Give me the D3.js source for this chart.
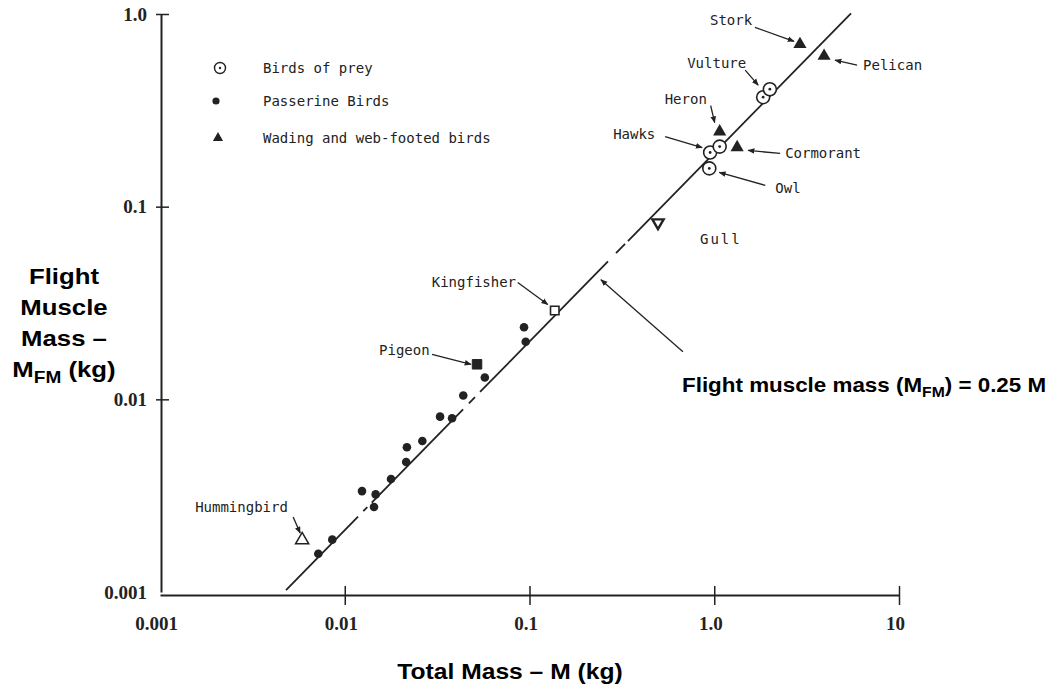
<!DOCTYPE html>
<html lang="en">
<head>
<meta charset="UTF-8">
<script src="https://cdn.jsdelivr.net/npm/d3@7"></script>
<style>
  body { margin: 0; background: #fff; }
  svg { display: block; }
</style>
<title>Flight muscle mass vs total mass</title>
</head>
<body>
<script>
// Flight muscle mass against total body mass (log-log)

let w = 1055;
let h = 692;

// axes
let xTicks = [0.001, 0.01, 0.1, 1, 10];
let xTickLabels = ['0.001', '0.01', '0.1', '1.0', '10'];
let yTicks = [0.001, 0.01, 0.1, 1];
let yTickLabels = ['0.001', '0.01', '0.1', '1.0'];

// birds of prey (circle with dot)
let preyNames = ['Owl', 'Hawks', '', 'Vulture', ''];
let preyMass = [0.94, 0.95, 1.07, 1.84, 2.0];
let preyMuscle = [0.158, 0.191, 0.205, 0.37, 0.407];

// passerine birds (filled dots)
let passerineMass = [0.00719, 0.00856, 0.0124, 0.0147, 0.0144, 0.0178, 0.0215, 0.0217,
                     0.0263, 0.0328, 0.0381, 0.0438, 0.0573, 0.0934, 0.0954];
let passerineMuscle = [0.00158, 0.00187, 0.00334, 0.00321, 0.00276, 0.00386, 0.00473, 0.00564,
                       0.00608, 0.00813, 0.00797, 0.01047, 0.01298, 0.02368, 0.01989];

// wading and web-footed birds (filled triangles)
let wadingNames = ['Heron', 'Cormorant', 'Stork', 'Pelican'];
let wadingMass = [1.07, 1.33, 2.91, 3.93];
let wadingMuscle = [0.245, 0.203, 0.696, 0.605];

// other named birds, each with its own symbol
let otherNames = ['Hummingbird', 'Pigeon', 'Kingfisher', 'Gull'];
let otherMass = [0.00588, 0.052, 0.137, 0.496];
let otherMuscle = [0.00186, 0.0152, 0.0289, 0.0826];

// fitted line through the points, and the breaks drawn in it
let fitMass = [0.00481, 5.5];
let fitMuscle = [0.001024, 1.008];
let fitBreaks = [[0.0118, 0.0126], [0.01325, 0.014], [0.0437, 0.047],
                 [0.0507, 0.054], [0.266, 0.294], [0.329, 0.341]];

// label placement, offsets in px from the point: text start, leader from -> to
let labelPos = {
  'Stork':       { tx: -90, ty: -19, a: [-45, -17, -6, -3] },
  'Pelican':     { tx: 39,  ty: 14,  a: [33, 9, 11, 4] },
  'Vulture':     { tx: -76, ty: -29, a: [-18, -27, -5, -12] },
  'Heron':       { tx: -55, ty: -28, a: [-9, -26, -5, -9] },
  'Hawks':       { tx: -97, ty: -14, a: [-45, -16, -8, -5] },
  'Cormorant':   { tx: 48,  ty: 11,  a: [43, 6, 11, 3] },
  'Owl':         { tx: 66,  ty: 25,  a: [56, 17, 10, 4] },
  'Gull':        { tx: 42,  ty: 21,  a: null },
  'Kingfisher':  { tx: -123, ty: -24, a: [-37, -28, -7, -6] },
  'Pigeon':      { tx: -98, ty: -9,  a: [-45, -10, -6, 0] },
  'Hummingbird': { tx: -107, ty: -28, a: [-9, -23, -2, -7] }
};

let ink = '#222';
let monoFont = '"DejaVu Sans Mono", monospace';

let x = d3.scaleLog().domain([0.001, 10]).range([160, 899]);
let y = d3.scaleLog().domain([0.001, 1]).range([592, 14]);

let svg = d3.select('body')
            .append('svg')
            .attr('width', w)
            .attr('height', h);

let defs = svg.append('defs');
defs.append('marker')
    .attr('id', 'arrow')
    .attr('viewBox', '0 0 10 10')
    .attr('refX', 9).attr('refY', 5)
    .attr('markerWidth', 7).attr('markerHeight', 7)
    .attr('markerUnits', 'userSpaceOnUse')
    .attr('orient', 'auto')
    .append('path')
    .attr('d', 'M0,1 L10,5 L0,9 Z')
    .attr('fill', ink);

// Y axis
let yAxis = svg.append('g')
    .attr('transform', 'translate(161,0)')
    .call(d3.axisLeft(y).tickValues(yTicks)
            .tickFormat((d, i) => yTickLabels[i])
            .tickSize(0).tickPadding(14));
yAxis.select('.domain').attr('stroke', ink).attr('stroke-width', 2);
yAxis.selectAll('.tick').filter(d => d > 0.001)
     .append('line').attr('x1', -5).attr('x2', 8)
     .attr('stroke', ink).attr('stroke-width', 1.5);
yAxis.selectAll('.tick text')
     .attr('font-family', '"Liberation Serif", serif')
     .attr('font-weight', 'bold')
     .attr('font-size', 19)
     .attr('fill', ink);

// X axis
let xAxis = svg.append('g')
    .attr('transform', 'translate(0,595)')
    .call(d3.axisBottom(x).tickValues(xTicks)
            .tickFormat((d, i) => xTickLabels[i])
            .tickSize(0).tickPadding(22));
xAxis.select('.domain').attr('stroke', ink).attr('stroke-width', 2);
xAxis.selectAll('.tick').filter(d => d > 0.001)
     .append('line').attr('y1', -9).attr('y2', 10)
     .attr('stroke', ink).attr('stroke-width', 1.5);
xAxis.selectAll('.tick text')
     .attr('dx', -4)
     .attr('font-family', '"Liberation Serif", serif')
     .attr('font-weight', 'bold')
     .attr('font-size', 19)
     .attr('fill', ink);

// fitted line, split at its breaks
let fitAt = m => {
  let t = (Math.log10(m) - Math.log10(fitMass[0])) / (Math.log10(fitMass[1]) - Math.log10(fitMass[0]));
  return Math.pow(10, Math.log10(fitMuscle[0]) + t * (Math.log10(fitMuscle[1]) - Math.log10(fitMuscle[0])));
};
let cuts = [fitMass[0]].concat(fitBreaks.flat(), [fitMass[1]]);
let segments = d3.range(0, cuts.length, 2).map(i => [cuts[i], cuts[i + 1]]);
let fitLine = d3.line().x(d => x(d)).y(d => y(fitAt(d)));
svg.append('g').selectAll('path')
   .data(segments)
   .enter()
   .append('path')
   .attr('d', d => fitLine(d))
   .attr('stroke', ink)
   .attr('stroke-width', 1.8)
   .attr('fill', 'none');

// passerine dots
svg.append('g').selectAll('circle')
   .data(passerineMass)
   .enter()
   .append('circle')
   .attr('cx', d => x(d))
   .attr('cy', (d, i) => y(passerineMuscle[i]))
   .attr('r', 4.3)
   .attr('fill', ink);

// birds of prey
let prey = svg.append('g').selectAll('g')
   .data(preyMass)
   .enter()
   .append('g')
   .attr('transform', (d, i) => 'translate(' + x(d) + ',' + y(preyMuscle[i]) + ')');
prey.append('circle').attr('r', 6.5).attr('fill', '#fff').attr('stroke', ink).attr('stroke-width', 1.6);
prey.append('circle').attr('r', 1.4).attr('fill', ink);

// wading birds
let tri = d3.symbol(d3.symbolTriangle, 75);
svg.append('g').selectAll('path')
   .data(wadingMass)
   .enter()
   .append('path')
   .attr('d', tri)
   .attr('transform', (d, i) => 'translate(' + x(d) + ',' + y(wadingMuscle[i]) + ')')
   .attr('fill', ink);

// the other named birds
let otherStyle = [
  { type: d3.symbolTriangle, size: 75, fill: '#fff', sw: 1.5, rot: 0 },
  { type: d3.symbolSquare,   size: 90, fill: ink,    sw: 1,   rot: 0 },
  { type: d3.symbolSquare,   size: 72, fill: '#fff', sw: 1.6, rot: 0 },
  { type: d3.symbolTriangle, size: 55, fill: '#fff', sw: 2.4, rot: 180 }
];
svg.append('g').selectAll('path')
   .data(otherMass)
   .enter()
   .append('path')
   .attr('d', (d, i) => d3.symbol(otherStyle[i].type, otherStyle[i].size)())
   .attr('transform', (d, i) => 'translate(' + x(d) + ',' + y(otherMuscle[i]) + ') rotate(' + otherStyle[i].rot + ')')
   .attr('fill', (d, i) => otherStyle[i].fill)
   .attr('stroke', ink)
   .attr('stroke-width', (d, i) => otherStyle[i].sw);

// point labels with leaders
let labelled = [];
preyNames.forEach((n, i) => { if (n) labelled.push({ name: n, m: preyMass[i], f: preyMuscle[i] }); });
wadingNames.forEach((n, i) => labelled.push({ name: n, m: wadingMass[i], f: wadingMuscle[i] }));
otherNames.forEach((n, i) => labelled.push({ name: n, m: otherMass[i], f: otherMuscle[i] }));

let labels = svg.append('g').selectAll('g')
   .data(labelled)
   .enter()
   .append('g')
   .attr('transform', d => 'translate(' + x(d.m) + ',' + y(d.f) + ')');
labels.append('text')
   .text(d => d.name)
   .attr('x', d => labelPos[d.name].tx)
   .attr('y', d => labelPos[d.name].ty)
   .attr('letter-spacing', d => d.name === 'Gull' ? 2 : 0)
   .attr('font-family', monoFont)
   .attr('font-size', 14)
   .attr('fill', ink);
labels.filter(d => labelPos[d.name].a)
   .append('line')
   .attr('x1', d => labelPos[d.name].a[0])
   .attr('y1', d => labelPos[d.name].a[1])
   .attr('x2', d => labelPos[d.name].a[2])
   .attr('y2', d => labelPos[d.name].a[3])
   .attr('stroke', ink)
   .attr('stroke-width', 1.3)
   .attr('marker-end', 'url(#arrow)');

// legend
let legend = svg.append('g').attr('transform', 'translate(218,0)');
let legendRows = ['Birds of prey', 'Passerine Birds', 'Wading and web-footed birds'];
let legendY = [68, 101, 138];
legend.append('circle').attr('cx', 2).attr('cy', legendY[0]).attr('r', 5.5).attr('fill', '#fff').attr('stroke', ink).attr('stroke-width', 1.4);
legend.append('circle').attr('cx', 2).attr('cy', legendY[0]).attr('r', 1.2).attr('fill', ink);
legend.append('circle').attr('cx', -2).attr('cy', legendY[1]).attr('r', 3.6).attr('fill', ink);
legend.append('path').attr('d', d3.symbol(d3.symbolTriangle, 45)).attr('transform', 'translate(0,' + legendY[2] + ')').attr('fill', ink);
legend.selectAll('text')
   .data(legendRows)
   .enter()
   .append('text')
   .text(d => d)
   .attr('x', 45)
   .attr('y', (d, i) => legendY[i] + 5)
   .attr('font-family', monoFont)
   .attr('font-size', 14)
   .attr('fill', ink);

// fit line annotation
let fitPt = [x(0.226), y(fitAt(0.226))];
svg.append('line')
   .attr('x1', fitPt[0] + 88).attr('y1', fitPt[1] + 77)
   .attr('x2', fitPt[0] + 6).attr('y2', fitPt[1] + 5)
   .attr('stroke', ink).attr('stroke-width', 1.3)
   .attr('marker-end', 'url(#arrow)');

let boldFont = '"Liberation Sans", Arial, sans-serif';
let note = svg.append('text')
   .attr('transform', 'translate(682,392) scale(1.12,1)')
   .attr('font-family', boldFont).attr('font-weight', 'bold').attr('font-size', 20).attr('fill', '#000');
note.append('tspan').text('Flight muscle mass (M');
note.append('tspan').text('FM').attr('font-size', 14).attr('dy', 5);
note.append('tspan').text(') = 0.25 M').attr('dy', -5);

// axis titles
svg.append('text')
   .attr('transform', 'translate(510,679) scale(1.12,1)')
   .attr('text-anchor', 'middle')
   .attr('font-family', boldFont).attr('font-weight', 'bold').attr('font-size', 22).attr('fill', '#000')
   .text('Total Mass \u2013 M (kg)');

let yTitle = svg.append('g')
   .attr('transform', 'translate(64,0) scale(1.12,1)')
   .attr('font-family', boldFont).attr('font-weight', 'bold').attr('font-size', 23).attr('fill', '#000')
   .attr('text-anchor', 'middle');
yTitle.append('text').attr('y', 284).text('Flight');
yTitle.append('text').attr('y', 315).text('Muscle');
yTitle.append('text').attr('y', 346).text('Mass \u2013');
let mfm = yTitle.append('text').attr('y', 377);
mfm.append('tspan').text('M');
mfm.append('tspan').text('FM').attr('font-size', 17).attr('dy', 6);
mfm.append('tspan').text(' (kg)').attr('dy', -6);
</script>
</body>
</html>
